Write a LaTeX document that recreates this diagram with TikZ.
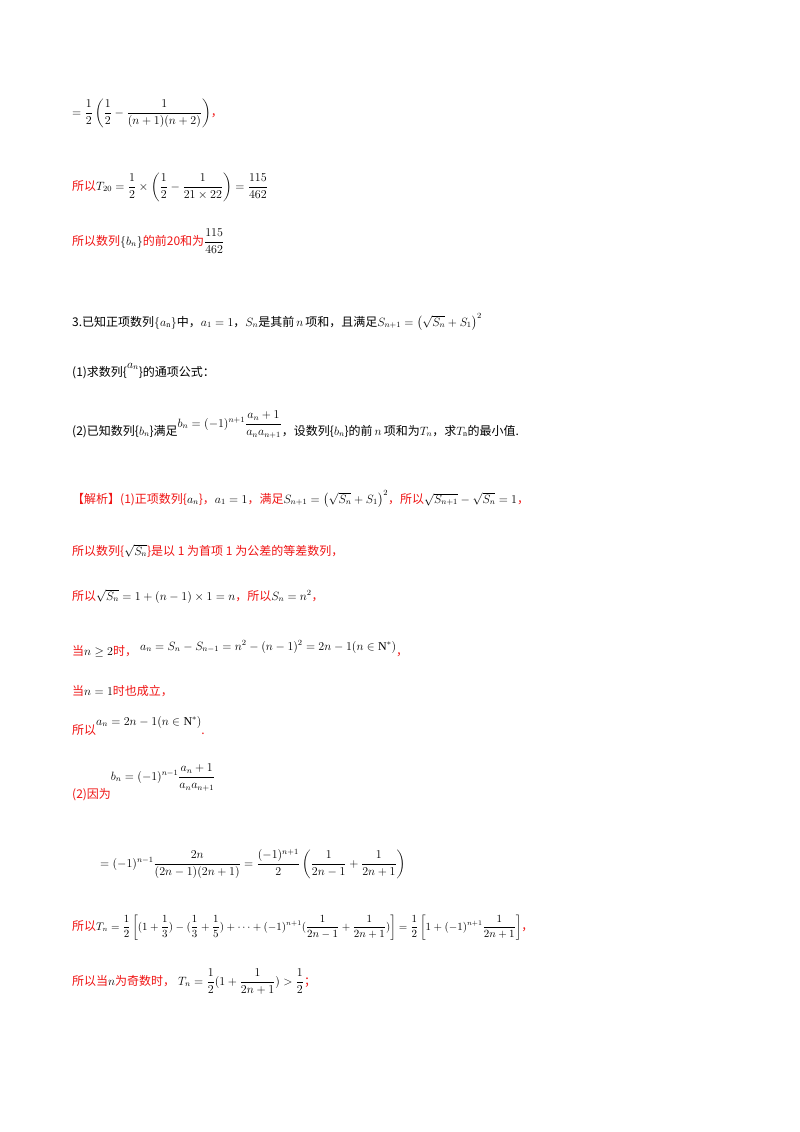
\documentclass[tikz,border=0pt]{standalone}
\usepackage{amsmath,amssymb}
\usepackage{fontspec}
\setmainfont{Liberation Serif}
\newfontfamily\cjk{Noto Sans CJK SC}
\definecolor{rd}{RGB}{240,20,20}
\newcommand{\zh}[1]{{\cjk #1}}
\newcommand{\R}[1]{\textcolor{rd}{\cjk #1}}
\begin{document}
\begin{tikzpicture}[x=1pt,y=-1pt,every node/.style={anchor=base west,inner sep=0pt,font=\fontsize{12}{14}\selectfont}]
\useasboundingbox[fill=white] (0,0) rectangle (800,1132);
\node (l1) at (72,116) {$\displaystyle=\frac12\left(\frac12-\frac1{(n+1)(n+2)}\right)$\R{，}};
\node (l2) at (72,190) {\R{所以}$\displaystyle T_{20}=\frac12\times\left(\frac12-\frac1{21\times22}\right)=\frac{115}{462}$};
\node (l3) at (72,245) {\R{所以数列}$\{b_n\}$\R{的前20和为}$\displaystyle\frac{115}{462}$};
\node (l4) at (72,326) {\zh{3.已知正项数列}$\{a_{\mathrm n}\}$\zh{中，}$a_1=1$\zh{，}$S_n$\zh{是其前}$\,n\,$\zh{项和，且满足}$S_{n+1}=\left(\sqrt{S_n}+S_1\right)^2$};
\node (l5) at (72,376) {\zh{(1)求数列\{}\raisebox{8pt}{$a_n$}\zh{\}的通项公式：}};
\node (l6) at (72,435) {\zh{(2)已知数列\{}$b_n$\zh{\}满足}\raisebox{8pt}{$\displaystyle b_n=(-1)^{n+1}\frac{a_n+1}{a_na_{n+1}}$}\zh{，设数列\{}$b_n$\zh{\}的前}$\,n\,$\zh{项和为}$T_n$\zh{，求}$T_{\mathrm n}$\zh{的最小值.}};
\node (l7) at (72,503) {\R{【解析】(1)正项数列\{}$a_n$\R{\}，}$a_1=1$\R{，满足}$S_{n+1}=\left(\sqrt{S_n}+S_1\right)^2$\R{，所以}$\sqrt{S_{n+1}}-\sqrt{S_n}=1$\R{，}};
\node (l8) at (72,555) {\R{所以数列\{}$\sqrt{S_n}$\R{\}是以 1 为首项 1 为公差的等差数列，}};
\node (l9) at (72,600) {\R{所以}$\sqrt{S_n}=1+(n-1)\times1=n$\R{，所以}$S_n=n^2$\R{，}};
\node (l10) at (72,655) {\R{当}$n\ge2$\R{时，}\ \raisebox{5pt}{$a_n=S_n-S_{n-1}=n^2-(n-1)^2=2n-1(n\in\mathrm N^*)$}\R{，}};
\node (l11) at (72,695) {\R{当}$n=1$\R{时也成立，}};
\node (l12) at (72,734) {\R{所以}\raisebox{9pt}{$a_n=2n-1(n\in\mathrm N^*)$}\R{.}};
\node (l13) at (72,798) {\R{(2)因为}\raisebox{18pt}{$\displaystyle b_n=(-1)^{n-1}\frac{a_n+1}{a_na_{n+1}}$}};
\node (l14) at (100,867) {$\displaystyle=(-1)^{n-1}\frac{2n}{(2n-1)(2n+1)}=\frac{(-1)^{n+1}}{2}\left(\frac1{2n-1}+\frac1{2n+1}\right)$};
\node[font=\fontsize{10.5}{12}\selectfont] (l15) at (72,930) {\R{\fontsize{12}{14}\selectfont 所以}$\displaystyle T_n=\frac12\left[(1+\frac13)-(\frac13+\frac15)+\cdots+(-1)^{n+1}(\frac1{2n-1}+\frac1{2n+1})\right]=\frac12\left[1+(-1)^{n+1}\frac1{2n+1}\right]$\R{\fontsize{12}{14}\selectfont ，}};
\node (l16) at (72,985) {\R{所以当}$n$\R{为奇数时，}\ $\displaystyle T_n=\frac12(1+\frac1{2n+1})>\frac12$\R{；}};
\end{tikzpicture}
\end{document}
